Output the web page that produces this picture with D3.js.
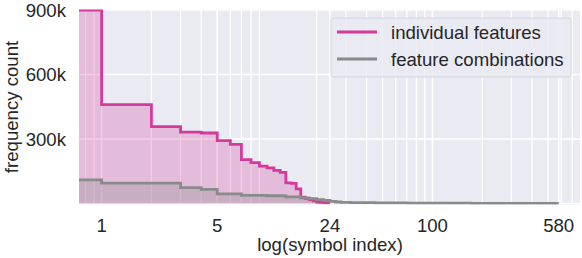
<!DOCTYPE html>
<html>
<head>
<meta charset="utf-8">
<script src="https://cdn.jsdelivr.net/npm/d3@7"></script>
<style>
  body { margin: 0; background: #fff; }
  text { font-family: "Liberation Sans", Arial, sans-serif; fill: #262626; }
</style>
</head>
<body>
<div id="chart"></div>
<script>
// data: each series as steps (last rank of a run, frequency in that run)
var indivRank = [1, 2, 3, 4, 5, 6, 7, 8, 9, 10, 11, 12, 13, 14, 15, 16, 17, 18, 19, 20, 21, 22, 23, 24];
var indivCount = [900000, 460000, 358000, 332000, 328000, 292000, 275000, 204000, 190000, 174000, 166000, 154000,
                  145000, 96000, 94000, 68000, 30000, 24000, 18000, 12000, 7000, 5000, 4000, 3000];
var comboRank = [1, 3, 4, 5, 7, 10, 13, 16, 18, 20, 22, 24, 26, 28, 32, 45, 70, 170, 580];
var comboCount = [110000, 95000, 74000, 66000, 45000, 38000, 36000, 31000, 26000, 22000, 18000, 14000,
                  10000, 7000, 5000, 4000, 3000, 2000, 1000];
var xTicks = [1, 5, 24, 100, 580];
var yTicks = [300000, 600000, 900000];
var seriesNames = ["individual features", "feature combinations"];

var svgWidth = 582;
var svgHeight = 258;
var plot = { left: 79, right: 580, top: 9.5, bottom: 204.5 };
var fontSize = 18.6;

var pink = "#d4399b";
var gray = "#8a8a8a";

var svg = d3.select("#chart")
    .append("svg")
    .attr("width", svgWidth)
    .attr("height", svgHeight);

var xScale = d3.scaleLog()
    .domain([0.73, 780])
    .range([plot.left, plot.right]);

var yScale = d3.scaleLinear()
    .domain([0, 900000])
    .range([203.5, 10]);

// background
svg.append("rect")
    .attr("x", plot.left)
    .attr("y", plot.top)
    .attr("width", plot.right - plot.left)
    .attr("height", plot.bottom - plot.top)
    .attr("fill", "#eaeaf2");

// minor log grid (2..9 of each decade, no decade lines)
var minor = [];
[0.1, 1, 10, 100].forEach(function (dec) {
    for (var k = 2; k <= 9; k++) {
        var v = dec * k;
        if (v >= 0.73 && v <= 780) minor.push(v);
    }
});

var grid = svg.append("g");
grid.selectAll(".vminor")
    .data(minor)
    .enter()
    .append("line")
    .attr("x1", d => xScale(d))
    .attr("x2", d => xScale(d))
    .attr("y1", plot.top)
    .attr("y2", plot.bottom)
    .attr("stroke", "#fff")
    .attr("stroke-width", 1.3);

grid.selectAll(".vmajor")
    .data(xTicks)
    .enter()
    .append("line")
    .attr("x1", d => xScale(d))
    .attr("x2", d => xScale(d))
    .attr("y1", plot.top)
    .attr("y2", plot.bottom)
    .attr("stroke", "#fff")
    .attr("stroke-width", 1.6);

grid.selectAll(".hmajor")
    .data([0].concat(yTicks))
    .enter()
    .append("line")
    .attr("x1", plot.left)
    .attr("x2", plot.right)
    .attr("y1", d => yScale(d))
    .attr("y2", d => yScale(d))
    .attr("stroke", "#fff")
    .attr("stroke-width", 1.6);

// build step points: run value spans (previous rank, rank]
function stepPoints(ranks, counts) {
    var pts = [{ x: xScale.domain()[0], y: counts[0] }];
    for (var i = 1; i < ranks.length; i++) {
        pts.push({ x: ranks[i - 1], y: counts[i] });
    }
    pts.push({ x: ranks[ranks.length - 1], y: counts[counts.length - 1] });
    return pts;
}

var indivPts = stepPoints(indivRank, indivCount);
var comboPts = stepPoints(comboRank, comboCount);

var area = d3.area()
    .curve(d3.curveStepAfter)
    .x(d => xScale(d.x))
    .y0(yScale(0))
    .y1(d => yScale(d.y));

var line = d3.line()
    .curve(d3.curveStepAfter)
    .x(d => xScale(d.x))
    .y(d => yScale(d.y));

svg.append("clipPath").attr("id", "clip")
    .append("rect")
    .attr("x", plot.left)
    .attr("y", plot.top)
    .attr("width", plot.right - plot.left)
    .attr("height", plot.bottom - plot.top);

var marks = svg.append("g").attr("clip-path", "url(#clip)");

marks.append("path")
    .attr("d", area(indivPts))
    .attr("fill", pink)
    .attr("fill-opacity", 0.26);

marks.append("path")
    .attr("d", area(comboPts))
    .attr("fill", gray)
    .attr("fill-opacity", 0.3);

marks.append("path")
    .attr("d", line(indivPts))
    .attr("fill", "none")
    .attr("stroke", pink)
    .attr("stroke-width", 2.8);

marks.append("path")
    .attr("d", line(comboPts))
    .attr("fill", "none")
    .attr("stroke", gray)
    .attr("stroke-width", 2.8);

// y tick labels
svg.selectAll(".ylab")
    .data(yTicks)
    .enter()
    .append("text")
    .attr("x", 66)
    .attr("y", d => yScale(d) + 6.5)
    .attr("text-anchor", "end")
    .attr("font-size", fontSize)
    .text(d => (d / 1000) + "k");

// x tick labels
svg.selectAll(".xlab")
    .data(xTicks)
    .enter()
    .append("text")
    .attr("x", d => xScale(d))
    .attr("y", 232)
    .attr("text-anchor", "middle")
    .attr("font-size", fontSize)
    .text(d => d);

// axis titles
svg.append("text")
    .attr("transform", "translate(17.5, 107) rotate(-90)")
    .attr("text-anchor", "middle")
    .attr("font-size", fontSize)
    .text("frequency count");

svg.append("text")
    .attr("x", 330)
    .attr("y", 251)
    .attr("text-anchor", "middle")
    .attr("font-size", fontSize)
    .text("log(symbol index)");

// legend
var legend = svg.append("g");
legend.append("rect")
    .attr("x", 331)
    .attr("y", 18)
    .attr("width", 240)
    .attr("height", 59)
    .attr("rx", 3)
    .attr("fill", "#eaeaf2")
    .attr("fill-opacity", 0.8)
    .attr("stroke", "#d4d4dc")
    .attr("stroke-width", 1);

var legendColors = [pink, gray];
seriesNames.forEach(function (name, i) {
    var ly = 32 + i * 27;
    legend.append("line")
        .attr("x1", 337)
        .attr("x2", 377)
        .attr("y1", ly)
        .attr("y2", ly)
        .attr("stroke", legendColors[i])
        .attr("stroke-width", 2.8);
    legend.append("text")
        .attr("x", 391)
        .attr("y", ly + 6.5)
        .attr("font-size", fontSize)
        .text(name);
});
</script>
</body>
</html>
